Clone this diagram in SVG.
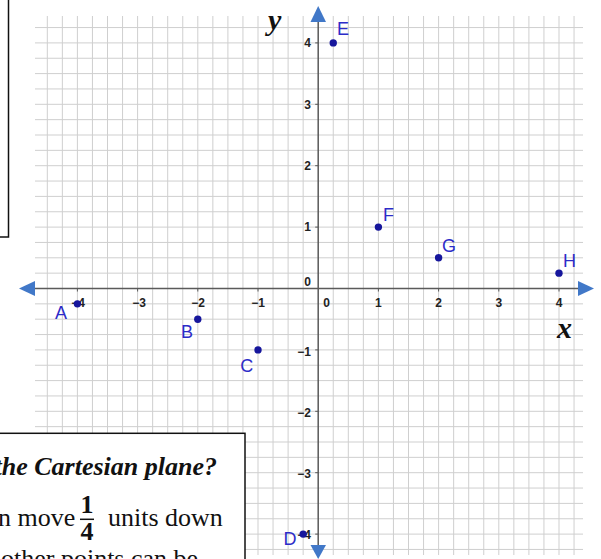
<svg xmlns="http://www.w3.org/2000/svg" width="601" height="559" viewBox="0 0 601 559">
<style>
.grid{stroke:#cfcfcf;stroke-width:1;fill:none}
.axis{stroke:#5a5a5a;stroke-width:1.5;fill:none}
.tick{stroke:#5a5a5a;stroke-width:1}
.arrow{fill:#4178c8}
.tl{font-family:"Liberation Sans",Arial,sans-serif;font-size:12px;font-weight:bold;fill:#222}
.tx{text-anchor:middle}
.ty{text-anchor:end}
.pt{fill:#16169c}
.pl{font-family:"Liberation Sans",Arial,sans-serif;font-size:18px;fill:#2c2cc8;text-anchor:middle}
.ax{font-family:"Liberation Serif","Times New Roman",serif;font-size:30px;font-weight:bold;font-style:italic;fill:#111}
.box{fill:#fff;stroke:#111;stroke-width:1.5}
.bt{font-family:"Liberation Serif","Times New Roman",serif;font-size:26px;fill:#111}
</style>
<rect width="601" height="559" fill="#fff"/>
<g id="grid">
<path class="grid" d="M47.3 16V555M62.35 16V555M77.4 16V555M92.45 16V555M107.5 16V555M122.55 16V555M137.6 16V555M152.65 16V555M167.7 16V555M182.75 16V555M197.8 16V555M212.85 16V555M227.9 16V555M242.95 16V555M258 16V555M273.05 16V555M288.1 16V555M303.15 16V555M333.25 16V555M348.3 16V555M363.35 16V555M378.4 16V555M393.45 16V555M408.5 16V555M423.55 16V555M438.6 16V555M453.65 16V555M468.7 16V555M483.75 16V555M498.8 16V555M513.85 16V555M528.9 16V555M543.95 16V555M559 16V555M574.05 16V555"/>
<path class="grid" d="M35 27.55H583M35 42.9H583M35 58.25H583M35 73.6H583M35 88.95H583M35 104.3H583M35 119.65H583M35 135H583M35 150.35H583M35 165.7H583M35 181.05H583M35 196.4H583M35 211.75H583M35 227.1H583M35 242.45H583M35 257.8H583M35 273.15H583M35 303.85H583M35 319.2H583M35 334.55H583M35 349.9H583M35 365.25H583M35 380.6H583M35 395.95H583M35 411.3H583M35 426.65H583M35 442H583M35 457.35H583M35 472.7H583M35 488.05H583M35 503.4H583M35 518.75H583M35 534.1H583M35 549.45H583"/>
</g>
<g id="axes">
<path class="axis" d="M34 288.5H579M318.2 21V546"/>
<path class="tick" d="M77.4 288.5v3M137.6 288.5v3M197.8 288.5v3M258 288.5v3M378.4 288.5v3M438.6 288.5v3M498.8 288.5v3M559 288.5v3M318.2 42.9h-3M318.2 104.3h-3M318.2 165.7h-3M318.2 227.1h-3M318.2 349.9h-3M318.2 411.3h-3M318.2 472.7h-3M318.2 534.1h-3"/>
<polygon class="arrow" points="19,288.5 35,281 35,296"/>
<polygon class="arrow" points="594,288.5 578,281 578,296"/>
<polygon class="arrow" points="318.2,6 310.5,22 326,22"/>
<polygon class="arrow" points="318.2,559 310.5,545 326,545"/>
<g class="tl tx">
<text x="78" y="306.5">−4</text>
<text x="139" y="306.5">−3</text>
<text x="198" y="306.5">−2</text>
<text x="258" y="306.5">−1</text>
<text x="326.7" y="306.5">0</text>
<text x="378.4" y="306.5">1</text>
<text x="438.6" y="306.5">2</text>
<text x="498.8" y="306.5">3</text>
<text x="559" y="306.5">4</text>
</g>
<g class="tl ty">
<text x="311" y="47.3">4</text>
<text x="311" y="108.6">3</text>
<text x="311" y="170">2</text>
<text x="311" y="231.3">1</text>
<text x="311" y="286">0</text>
<text x="311" y="355.5">−1</text>
<text x="311" y="416.5">−2</text>
<text x="311" y="477.5">−3</text>
<text x="311" y="538.5">−4</text>
</g>
<text class="ax" x="268" y="30">y</text>
<text class="ax" x="557" y="338">x</text>
</g>
<g id="point-A"><circle class="pt" cx="77.4" cy="303.85" r="3.7"/><text class="pl" x="61" y="319">A</text></g>
<g id="point-B"><circle class="pt" cx="197.8" cy="319.2" r="3.7"/><text class="pl" x="187" y="338">B</text></g>
<g id="point-C"><circle class="pt" cx="258" cy="349.9" r="3.7"/><text class="pl" x="246.7" y="371.5">C</text></g>
<g id="point-D"><circle class="pt" cx="303.15" cy="534.1" r="3.7"/><text class="pl" x="290" y="545">D</text></g>
<g id="point-E"><circle class="pt" cx="333.25" cy="42.9" r="3.7"/><text class="pl" x="343" y="35">E</text></g>
<g id="point-F"><circle class="pt" cx="378.4" cy="227.1" r="3.7"/><text class="pl" x="388.5" y="220.5">F</text></g>
<g id="point-G"><circle class="pt" cx="438.6" cy="257.8" r="3.7"/><text class="pl" x="449" y="251.5">G</text></g>
<g id="point-H"><circle class="pt" cx="559" cy="273.15" r="3.7"/><text class="pl" x="569.5" y="266.5">H</text></g>
<g id="top-box"><rect class="box" x="-10" y="-10" width="18.5" height="247"/></g>
<g id="question-box">
<rect class="box" x="-10" y="433.3" width="255" height="140"/>
<text class="bt" x="217" y="475" text-anchor="end" font-weight="bold" font-style="italic">the Cartesian plane?</text>
<text class="bt" x="-2" y="526">n move</text>
<text class="bt" x="87" y="513" text-anchor="middle" font-size="19" font-weight="bold">1</text>
<line x1="80" y1="519.3" x2="94" y2="519.3" stroke="#111" stroke-width="1.5"/>
<text class="bt" x="87" y="540" text-anchor="middle" font-size="19" font-weight="bold">4</text>
<text class="bt" x="108" y="526">units down</text>
<text class="bt" x="1" y="567">other points can be</text>
</g>
</svg>
